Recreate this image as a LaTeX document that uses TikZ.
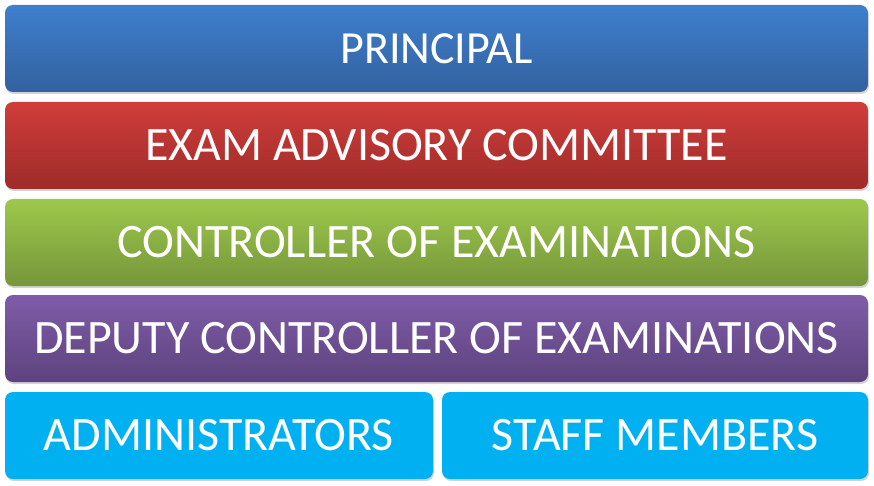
\documentclass[tikz,border=0pt]{standalone}
\usepackage{fontspec}
\setmainfont{Carlito}
\usepackage{tikz}
\usetikzlibrary{shadows}
\definecolor{principalTop}{HTML}{3E7FCD}
\definecolor{principalBot}{HTML}{3361A0}
\definecolor{committeeTop}{HTML}{D03D3A}
\definecolor{committeeBot}{HTML}{9E2B2A}
\definecolor{controllerTop}{HTML}{9DC84C}
\definecolor{controllerBot}{HTML}{76963A}
\definecolor{deputyTop}{HTML}{7F5CA8}
\definecolor{deputyBot}{HTML}{5D437E}
\definecolor{staffCyan}{HTML}{00B0F0}
\tikzset{tier/.style={shape=rectangle, rounded corners=8pt, inner sep=0pt,
    minimum height=87pt, text=white, font=\fontsize{48}{52}\selectfont,
    drop shadow={opacity=0.35, shadow xshift=1pt, shadow yshift=-2pt}}}

\begin{document}
\begin{tikzpicture}[x=1pt, y=-1pt]

                    \useasboundingbox (0,0) rectangle (874,486);

                    \node[tier, minimum width=863pt, top color=principalTop, bottom color=principalBot, font=\fontsize{46}{50}\selectfont] (P) at (436.5,48.5) {PRINCIPAL};
                    \node[tier, minimum width=863pt, top color=committeeTop, bottom color=committeeBot] (C) at (436.5,145.5) {EXAM ADVISORY COMMITTEE};
                    \node[tier, minimum width=863pt, top color=controllerTop, bottom color=controllerBot] (E) at (436.5,242.5) {CONTROLLER OF EXAMINATIONS};
                    \node[tier, minimum width=863pt, top color=deputyTop, bottom color=deputyBot] (D) at (436.5,338.5) {DEPUTY CONTROLLER OF EXAMINATIONS};
                    \node[tier, minimum width=428pt, fill=staffCyan] (A) at (219,435.5) {ADMINISTRATORS};
                    \node[tier, minimum width=426pt, fill=staffCyan] (S) at (655,435.5) {STAFF MEMBERS};

                \end{tikzpicture}
\end{document}
